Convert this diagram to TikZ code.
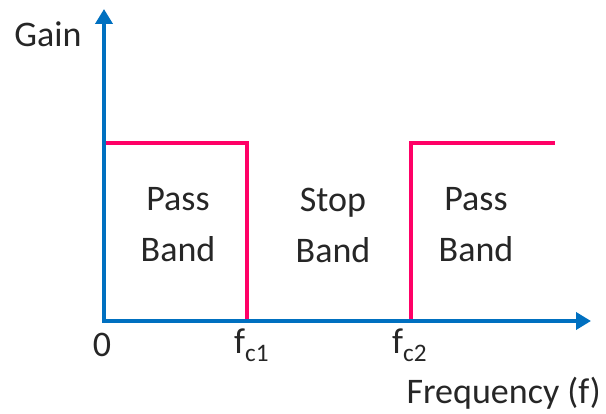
\documentclass[tikz,border=0pt]{standalone}
\usepackage{fontspec}
\setmainfont{Carlito}
\usetikzlibrary{arrows.meta}
\definecolor{axisblue}{HTML}{0070C0}
\definecolor{bandpink}{HTML}{FF0066}

\begin{document}
\begin{tikzpicture}[x=1pt, y=-1pt,
    every node/.style={font=\fontsize{36}{51}\selectfont, text=black!85, inner sep=0pt},
    axis/.style={axisblue, line width=4pt, -{Triangle[length=15pt, width=17pt]}},
    band/.style={bandpink, line width=4pt}]
  \useasboundingbox (0,0) rectangle (606,414);
  % axes
  \coordinate (O) at (104,321);
  \coordinate (ytop) at (104,9);
  \coordinate (xend) at (591,321);
  % band edges
  \coordinate (p1) at (102,143);
  \coordinate (p2) at (247,143);
  \coordinate (p3) at (247,321);
  \coordinate (q1) at (411,321);
  \coordinate (q2) at (411,143);
  \coordinate (q3) at (555,143);
  \draw[band] (p1) -- (p2) -- (p3);
  \draw[band] (q1) -- (q2) -- (q3);
  \draw[axis, line cap=rect] (O) -- (ytop);
  \draw[axis] (O) -- (xend);
  % labels
  \node (gain) at (48,34) {Gain};
  \node (zero) at (102,345) {0};
  \node[anchor=west] (fc1) at (234,345) {f\textsubscript{c1}};
  \node[anchor=west] (fc2) at (392,345) {f\textsubscript{c2}};
  \node[anchor=east] (freq) at (601,393) {Frequency (f)};
  \node[align=center] (pass1) at (178,225) {Pass\\Band};
  \node[align=center] (stop) at (333,225) {Stop\\Band};
  \node[align=center] (pass2) at (476,225) {Pass\\Band};
\end{tikzpicture}
\end{document}
